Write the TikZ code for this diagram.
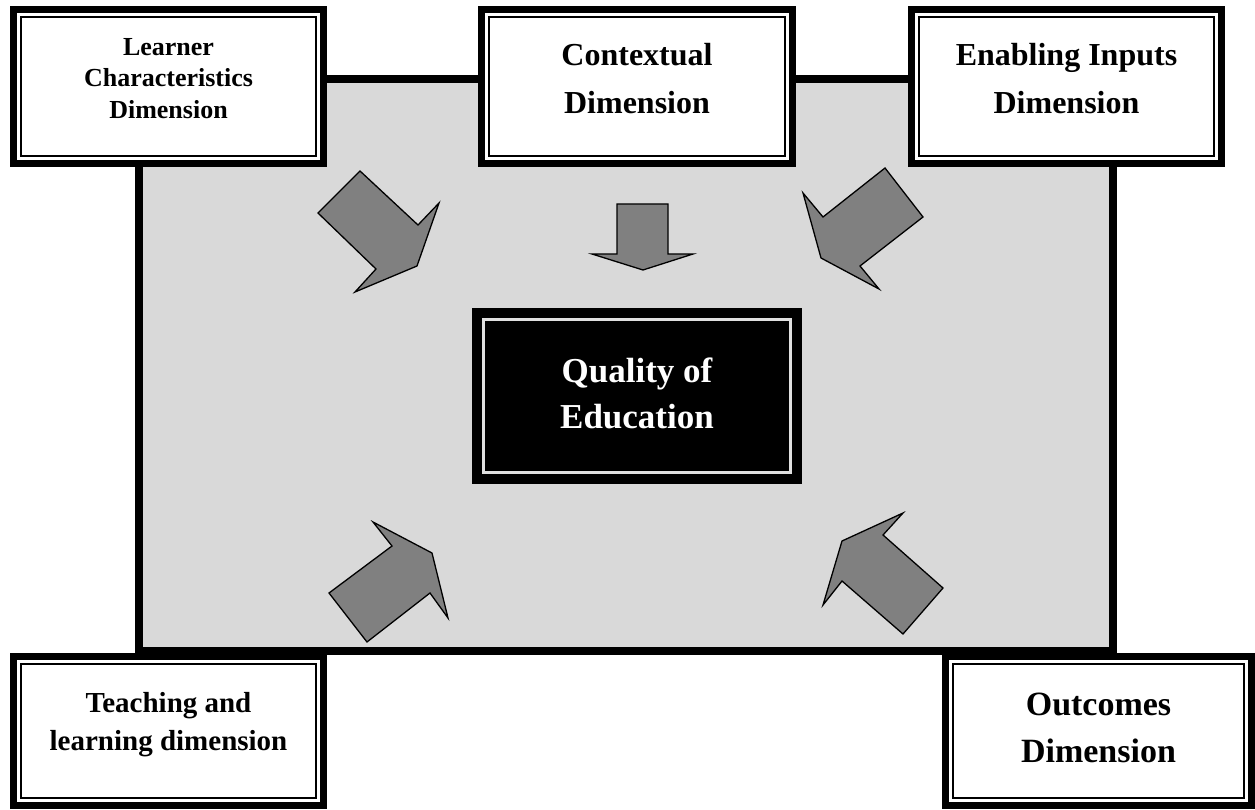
\documentclass[tikz,border=0pt]{standalone}
\usepackage{fontspec}
\setmainfont{Liberation Serif}
\usetikzlibrary{positioning}

\begin{document}
\begin{tikzpicture}[x=1pt,y=-1pt,
  dimbox/.style={draw,line width=7pt,fill=white,inner sep=0pt,outer sep=0pt,
    align=center,minimum width=310pt,minimum height=154pt},
  fatarrow/.style={draw,line width=1.3pt,fill=black!50,line join=miter},
]
\useasboundingbox (0,0) rectangle (1255,810);
% grey field behind everything
\draw[line width=8pt,fill=black!15] (139,79) rectangle (1113,651);

% the five dimensions
\node[dimbox,font=\bfseries\fontsize{26}{31.5}\selectfont,text depth=17pt]
   (learner) at (168.5,86.5) {Learner\\Characteristics\\Dimension};
\node[dimbox,minimum width=311pt,font=\bfseries\fontsize{32}{48}\selectfont,text depth=17pt]
   (context) at (637,86.5) {Contextual\\Dimension};
\node[dimbox,font=\bfseries\fontsize{32}{48}\selectfont,text depth=17pt]
   (enabling) at (1066.5,86.5) {Enabling Inputs\\Dimension};
\node[dimbox,minimum height=149pt,font=\bfseries\fontsize{29}{38}\selectfont,text depth=19pt]
   (teaching) at (168.5,731) {Teaching and\\learning dimension};
\node[dimbox,minimum width=306pt,minimum height=149pt,font=\bfseries\fontsize{34}{47}\selectfont,text depth=6pt]
   (outcomes) at (1098.5,731) {Outcomes\\Dimension};
\foreach \n in {learner,context,enabling,teaching,outcomes}
  \draw[line width=1.5pt] ([shift={(7.5pt,-7.5pt)}]\n.north west)
     rectangle ([shift={(-7.5pt,7.5pt)}]\n.south east);

% arrows towards the middle
\draw[fatarrow] (360,171) -- (418,225) -- (439,203) -- (417,266)
   -- (355,292) -- (376,269) -- (318,213) -- cycle;
\draw[fatarrow] (617,204) -- (668,204) -- (668,254) -- (693,254)
   -- (643,270) -- (592,254) -- (617,254) -- cycle;
\draw[fatarrow] (885,168) -- (923,217) -- (860,266) -- (879,289)
   -- (821,258) -- (803,193) -- (823,217) -- cycle;
\draw[fatarrow] (373,522) -- (432,553) -- (448,618) -- (430,593)
   -- (367,642) -- (329,593) -- (392,546) -- cycle;
\draw[fatarrow] (903,513) -- (883,535) -- (943,588) -- (903,634)
   -- (842,581) -- (823,605) -- (842,541) -- cycle;

% centre
\node[fill=black,inner sep=0pt,minimum width=330pt,minimum height=176pt,
   text=white,align=center,font=\bfseries\fontsize{35}{46}\selectfont,text depth=6pt]
   (quality) at (637,396) {Quality of\\Education};
\draw[line width=3pt,draw=black!12] ([shift={(12pt,-12pt)}]quality.north west)
   rectangle ([shift={(-12pt,12pt)}]quality.south east);
\end{tikzpicture}
\end{document}
